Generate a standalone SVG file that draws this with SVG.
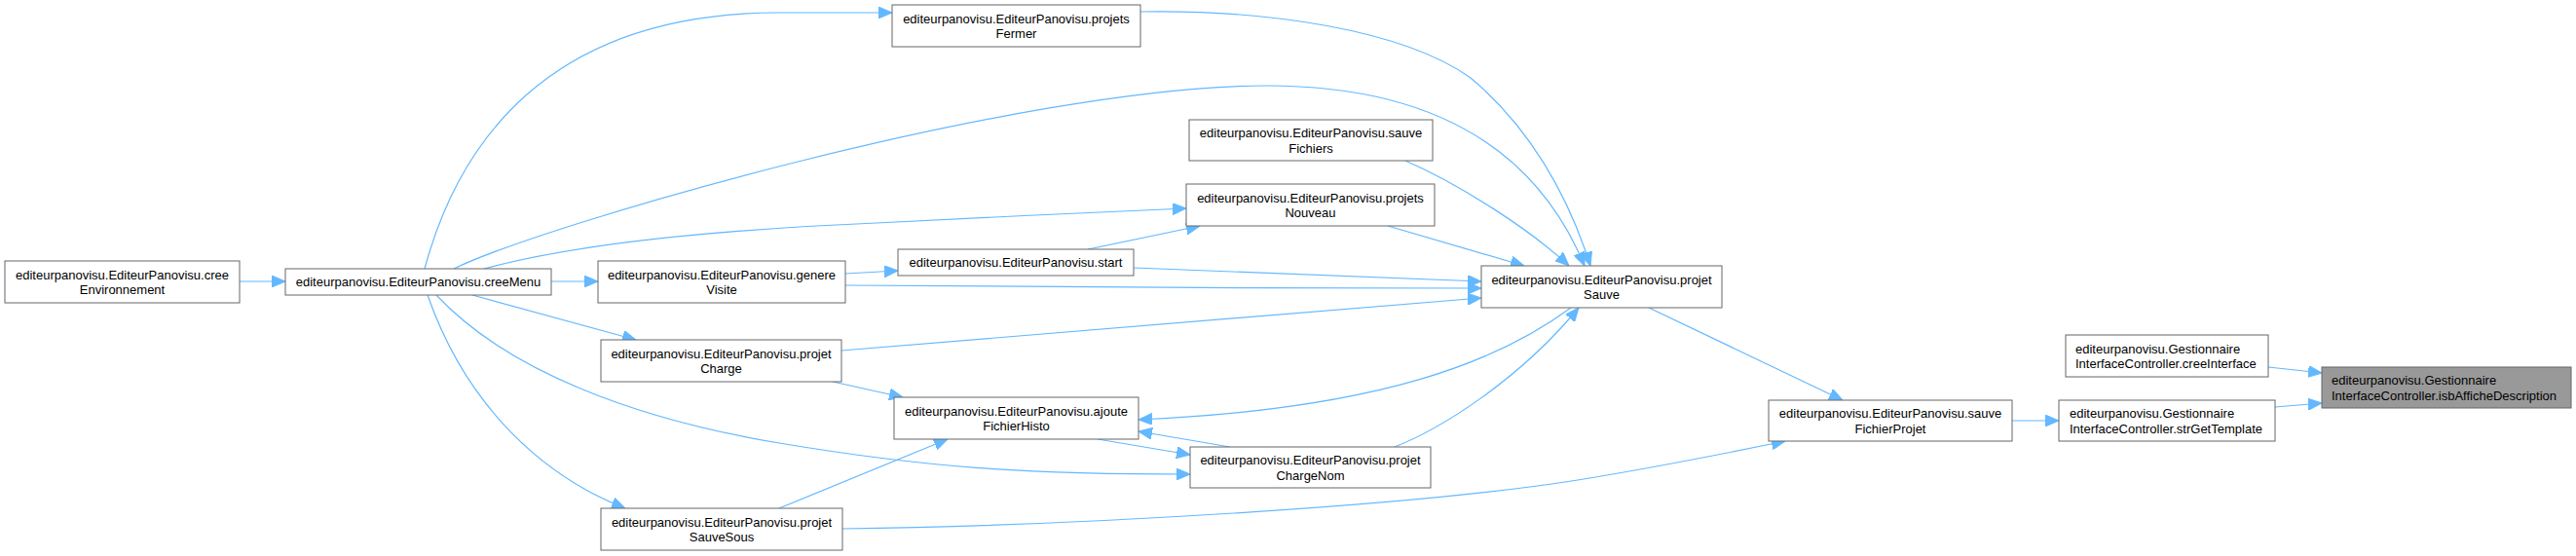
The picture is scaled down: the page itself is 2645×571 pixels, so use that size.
<svg xmlns="http://www.w3.org/2000/svg" width="2645" height="571" viewBox="0 0 2645 571">
<defs>
<style>
.n rect{fill:#ffffff;stroke:#666666;stroke-width:1}
.f rect{fill:#999999;stroke:#666666;stroke-width:1}
text{font-family:"Liberation Sans",Arial,sans-serif;font-size:13px;fill:#000}
.c{text-anchor:middle}
.l{text-anchor:start}
#edges path{fill:none;stroke:#63B8FF;stroke-width:1.2;marker-end:url(#ah)}
</style>
<marker id="ah" viewBox="0 0 14 12" refX="14" refY="6" markerWidth="14" markerHeight="12" markerUnits="userSpaceOnUse" orient="auto">
<path d="M0,0 L14,6 L0,12 z" fill="#63B8FF" stroke="#63B8FF" stroke-width="1"/>
</marker>
</defs>
<rect width="2645" height="571" fill="#ffffff"/>
<g id="edges">
<path d="M246,289 L293,289"/>
<path d="M436,276 C470,150 560,13 800,13 L916,13"/>
<path d="M466,276 C560,230 1050,88 1300,88 C1480,88 1580,160 1627,273"/>
<path d="M497,276 C600,248 760,235 900,229 C1000,224 1120,218 1218,214"/>
<path d="M566,289 L614,289"/>
<path d="M485,303 L653,349"/>
<path d="M448,303 C520,380 650,430 800,455 C950,480 1050,487 1222,487"/>
<path d="M439,303 C480,420 560,490 642,522"/>
<path d="M868,281 L922,278"/>
<path d="M868,293 C1000,295 1300,296 1521,296"/>
<path d="M864,360 L1521,306"/>
<path d="M855,392 L927,408"/>
<path d="M800,522 L973,451"/>
<path d="M865,543 C1100,540 1450,520 1620,493 C1700,480 1770,466 1833,453"/>
<path d="M1171,12 C1300,10 1440,30 1510,80 C1570,130 1610,200 1633,273"/>
<path d="M1443,165 C1500,190 1570,235 1611,273"/>
<path d="M1425,232 L1565,273"/>
<path d="M1117,256 L1232,232"/>
<path d="M1164,275 C1300,280 1420,286 1521,289"/>
<path d="M1613,316 C1540,370 1420,420 1169,431"/>
<path d="M1263,459 L1169,443"/>
<path d="M1127,451 L1222,467"/>
<path d="M1432,459 C1480,440 1560,390 1621,316"/>
<path d="M1693,316 L1892,411"/>
<path d="M2066,432 L2114,432"/>
<path d="M2336,418 L2384,414"/>
<path d="M2329,377 L2384,383"/>
</g>
<g id="creeEnvironnement" class="n"><rect x="5" y="268" width="241" height="43"/><text class="c" x="125.5" y="286.5">editeurpanovisu.EditeurPanovisu.cree</text><text class="c" x="125.5" y="302">Environnement</text></g>
<g id="creeMenu" class="n"><rect x="293" y="276" width="273" height="27"/><text class="c" x="429.5" y="293.5">editeurpanovisu.EditeurPanovisu.creeMenu</text></g>
<g id="genereVisite" class="n"><rect x="614" y="268" width="254" height="43"/><text class="c" x="741" y="286.5">editeurpanovisu.EditeurPanovisu.genere</text><text class="c" x="741" y="302">Visite</text></g>
<g id="projetCharge" class="n"><rect x="617" y="349" width="247" height="43"/><text class="c" x="740.5" y="367.5">editeurpanovisu.EditeurPanovisu.projet</text><text class="c" x="740.5" y="383">Charge</text></g>
<g id="projetSauveSous" class="n"><rect x="617" y="522" width="248" height="43"/><text class="c" x="741" y="540.5">editeurpanovisu.EditeurPanovisu.projet</text><text class="c" x="741" y="556">SauveSous</text></g>
<g id="projetsFermer" class="n"><rect x="916" y="5" width="255" height="43"/><text class="c" x="1043.5" y="23.5">editeurpanovisu.EditeurPanovisu.projets</text><text class="c" x="1043.5" y="39">Fermer</text></g>
<g id="sauveFichiers" class="n"><rect x="1221" y="123" width="250" height="42"/><text class="c" x="1346" y="141">editeurpanovisu.EditeurPanovisu.sauve</text><text class="c" x="1346" y="156.5">Fichiers</text></g>
<g id="projetsNouveau" class="n"><rect x="1218" y="189" width="255" height="43"/><text class="c" x="1345.5" y="207.5">editeurpanovisu.EditeurPanovisu.projets</text><text class="c" x="1345.5" y="223">Nouveau</text></g>
<g id="start" class="n"><rect x="922" y="256" width="242" height="27"/><text class="c" x="1043" y="273.5">editeurpanovisu.EditeurPanovisu.start</text></g>
<g id="ajouteFichierHisto" class="n"><rect x="918" y="408" width="251" height="43"/><text class="c" x="1043.5" y="426.5">editeurpanovisu.EditeurPanovisu.ajoute</text><text class="c" x="1043.5" y="442">FichierHisto</text></g>
<g id="projetChargeNom" class="n"><rect x="1222" y="459" width="247" height="42"/><text class="c" x="1345.5" y="477">editeurpanovisu.EditeurPanovisu.projet</text><text class="c" x="1345.5" y="492.5">ChargeNom</text></g>
<g id="projetSauve" class="n"><rect x="1521" y="273" width="247" height="43"/><text class="c" x="1644.5" y="291.5">editeurpanovisu.EditeurPanovisu.projet</text><text class="c" x="1644.5" y="307">Sauve</text></g>
<g id="sauveFichierProjet" class="n"><rect x="1816" y="411" width="250" height="42"/><text class="c" x="1941" y="429">editeurpanovisu.EditeurPanovisu.sauve</text><text class="c" x="1941" y="444.5">FichierProjet</text></g>
<g id="creeInterface" class="n"><rect x="2121" y="344" width="208" height="43"/><text class="l" x="2131" y="362.5">editeurpanovisu.Gestionnaire</text><text class="l" x="2131" y="378">InterfaceController.creeInterface</text></g>
<g id="strGetTemplate" class="n"><rect x="2114" y="411" width="222" height="42"/><text class="l" x="2125" y="429">editeurpanovisu.Gestionnaire</text><text class="l" x="2125" y="444.5">InterfaceController.strGetTemplate</text></g>
<g id="isbAfficheDescription" class="f"><rect x="2384" y="377" width="256" height="42"/><text class="l" x="2394" y="395">editeurpanovisu.Gestionnaire</text><text class="l" x="2394" y="410.5">InterfaceController.isbAfficheDescription</text></g>
</svg>
